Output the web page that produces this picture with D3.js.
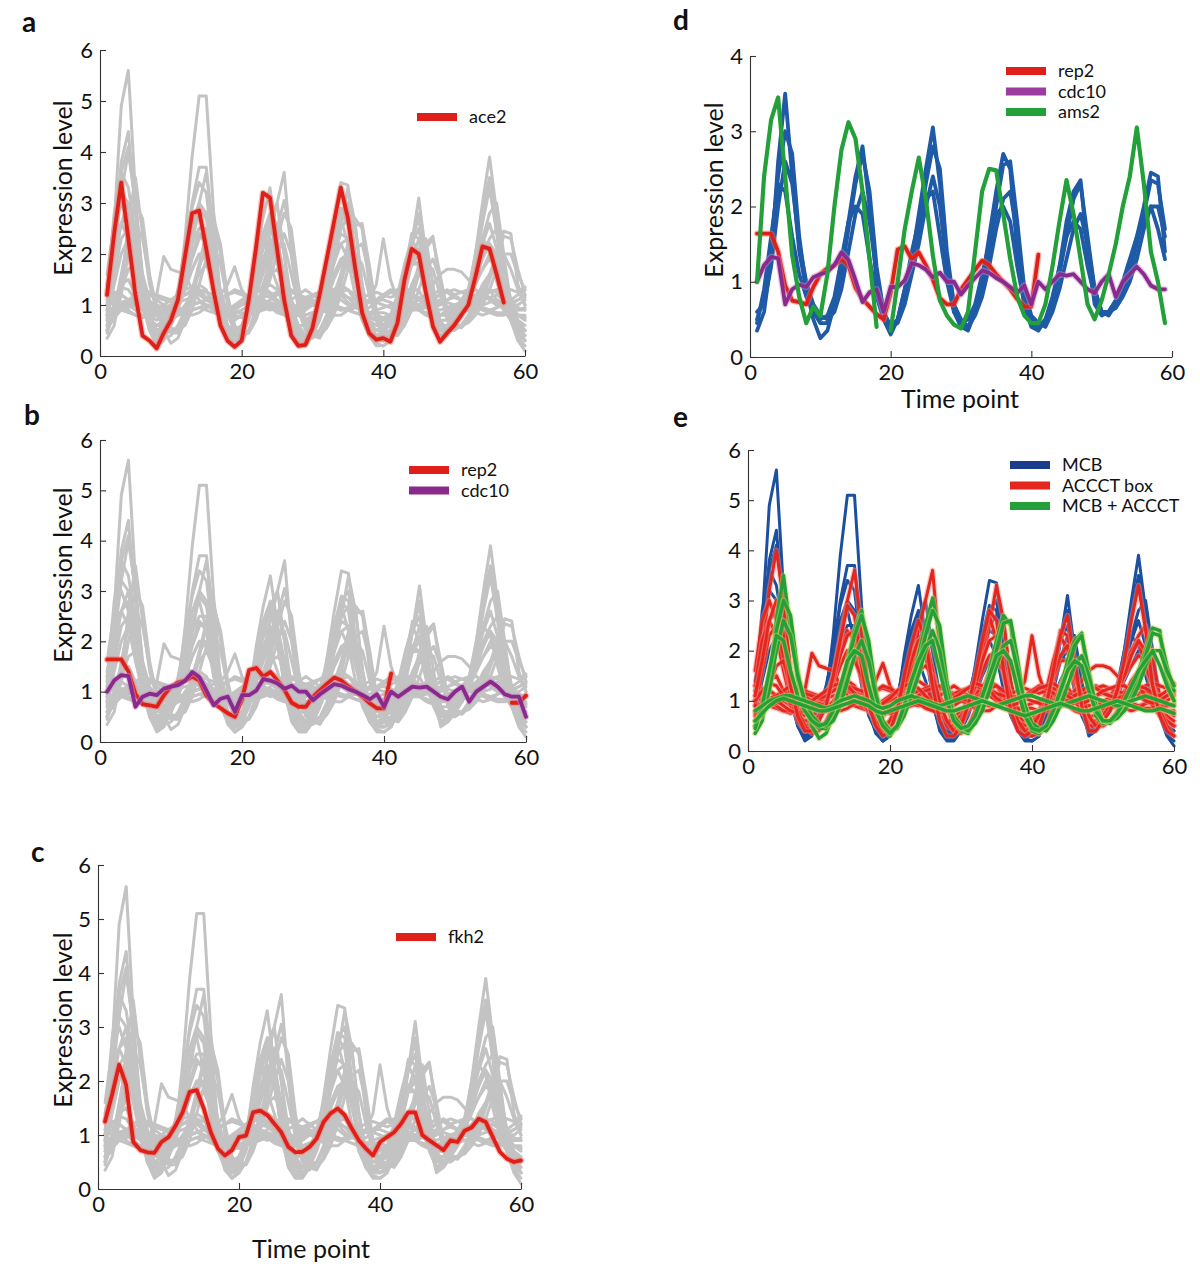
<!DOCTYPE html>
<html><head><meta charset="utf-8">
<script src="https://cdn.jsdelivr.net/npm/d3@7"></script>
<style>body{margin:0;background:#fff} svg{display:block} text{font-family:Lato,"Open Sans",sans-serif;}</style>
</head><body><svg id="chart" width="1200" height="1269"></svg>
<script>
// ---------- DATA ----------
const xTicks = [0, 20, 40, 60];
const yTicks6 = [0, 1, 2, 3, 4, 5, 6];
const yTicks4 = [0, 1, 2, 3, 4];

// MCB genes (blue in e)
const mcb1 = [0.8,2.6,4.9,5.6,3.2,1.3,0.5,0.2,0.3,0.6, 1.1,2.3,3.9,5.1,5.1,2.9,1.1,0.4,0.2,0.3, 0.9,1.9,2.7,3.3,2.3,1.0,0.4,0.2,0.2,0.4, 0.9,1.7,2.6,3.4,3.35,2.0,0.8,0.4,0.2,0.2, 0.3,0.6,1.3,2.2,3.1,2.0,0.9,0.3,0.4,0.6, 0.8,1.2,2.0,3.0,3.9,2.8,1.5,0.7,0.3,0.1];
const mcb2 = [1.2,2.8,3.6,4.1,3.0,1.5,0.7,0.4,0.5,0.8, 1.2,2.0,3.0,3.7,3.7,2.4,1.0,0.5,0.3,0.4, 1.0,1.8,2.4,2.6,2.0,1.1,0.6,0.3,0.3,0.5, 1.0,1.6,2.3,2.9,2.8,1.8,0.9,0.5,0.3,0.3, 0.4,0.8,1.5,2.2,2.5,1.7,0.8,0.4,0.5,0.7, 0.9,1.3,2.0,2.8,3.3,2.5,1.4,0.8,0.5,0.3];
const mcb3 = [0.5,2.0,3.6,3.3,2.4,1.2,0.6,0.3,0.4,0.7, 1.1,1.8,2.6,3.0,2.8,1.9,0.9,0.4,0.2,0.3, 0.8,1.5,2.2,2.7,3.0,2.0,0.9,0.4,0.3,0.5, 0.9,1.4,2.0,2.5,2.7,2.6,1.4,0.6,0.3,0.3, 0.4,0.7,1.2,1.8,2.3,2.3,1.4,0.6,0.5,0.6, 0.9,1.2,1.7,2.3,2.8,3.0,2.0,1.0,0.6,0.4];
const mcb4 = [1.4,2.2,2.6,2.8,2.2,1.3,0.8,0.5,0.6,0.9, 1.2,1.7,2.2,2.5,2.5,1.7,0.9,0.5,0.4,0.5, 1.0,1.6,2.1,2.3,1.9,1.2,0.7,0.4,0.4,0.6, 1.0,1.5,2.0,2.4,2.3,1.6,0.9,0.5,0.4,0.4, 0.5,0.8,1.3,1.8,2.0,1.5,0.9,0.5,0.6,0.7, 0.9,1.2,1.7,2.2,2.6,2.1,1.4,0.9,0.6,0.5];
const mcb5 = [0.9,2.4,3.2,3.0,2.0,1.0,0.5,0.3,0.5,0.8, 1.3,2.0,2.6,2.8,2.2,1.3,0.7,0.4,0.3,0.5, 1.1,1.6,1.9,1.8,1.4,0.9,0.5,0.3,0.4,0.7, 1.1,1.6,2.0,2.2,1.9,1.2,0.7,0.4,0.3,0.5, 0.7,1.1,1.5,1.9,1.8,1.2,0.7,0.4,0.5,0.7, 1.0,1.3,1.8,2.3,2.1,1.5,1.0,0.7,0.5,0.4];
const mcb6 = [0.7,1.4,2.0,2.3,2.2,1.5,0.8,0.4,0.4,0.6, 0.9,1.3,1.7,2.0,2.0,1.6,1.0,0.5,0.3,0.4, 0.7,1.2,1.7,2.1,2.6,2.0,1.1,0.5,0.3,0.4, 0.7,1.1,1.5,1.8,2.0,2.0,1.4,0.7,0.4,0.3, 0.4,0.6,1.0,1.4,1.7,1.7,1.2,0.7,0.5,0.6, 0.8,1.1,1.4,1.7,2.0,2.0,1.5,0.9,0.5,0.3];
const mcb7 = [1.0,2.4,3.8,4.4,2.8,1.2,0.5,0.25,0.35,0.7, 1.2,2.1,2.9,3.4,3.2,2.0,0.8,0.35,0.2,0.35, 0.9,1.7,2.4,2.8,2.2,1.0,0.45,0.25,0.25,0.45, 0.9,1.6,2.3,2.8,3.0,2.0,0.9,0.4,0.25,0.2, 0.3,0.7,1.4,2.2,2.8,1.9,0.8,0.35,0.45,0.65, 0.85,1.2,1.9,2.8,3.5,2.6,1.4,0.7,0.35,0.2];

// ACCCT box genes (red in e)
const acc1 = [1.0,2.0,3.2,4.0,3.0,1.6,0.8,0.5,0.5,0.7, 1.0,1.5,2.3,3.0,3.6,2.4,1.2,0.6,0.4,0.5, 0.8,1.2,1.8,2.4,3.0,3.6,2.0,0.9,0.5,0.5, 0.8,1.2,1.8,2.5,3.3,2.6,1.4,0.7,0.5,0.5, 0.6,0.9,1.6,2.4,2.3,1.5,0.9,0.6,0.6,0.8, 1.0,1.2,1.5,2.0,2.3,2.5,1.8,1.1,0.7,0.5];
const acc2 = [1.6,2.6,3.0,2.6,1.8,1.1,0.7,0.6,0.7,0.9, 1.1,1.5,2.0,2.4,2.2,1.5,0.9,0.6,0.5,0.6, 0.9,1.4,1.9,2.2,1.9,1.3,0.8,0.6,0.6,0.8, 1.0,1.4,2.0,2.7,2.2,1.5,1.0,0.7,0.6,0.6, 0.8,1.2,1.8,2.3,2.0,1.3,0.9,0.7,0.7,0.9, 1.1,1.3,1.7,2.0,2.2,1.7,1.2,0.9,0.7,0.6];
const acc3 = [1.3,2.2,2.6,2.3,1.6,1.0,0.8,0.7,0.8,0.9, 1.0,1.3,1.7,2.0,1.9,1.4,1.0,0.8,0.7,0.8, 0.9,1.2,1.6,2.0,2.1,1.6,1.1,0.8,0.7,0.8, 0.9,1.2,1.6,1.9,2.0,1.6,1.1,0.8,0.7,0.7, 0.8,1.0,1.4,1.8,1.8,1.4,1.0,0.8,0.8,0.9, 1.0,1.2,1.5,1.7,1.9,1.8,1.3,1.0,0.8,0.7];
const acc4 = [1.0,1.1,1.2,1.1,1.0,0.9,0.85,0.9,0.95,1.0, 1.05,1.1,1.15,1.2,1.1,1.0,0.9,0.85,0.9,1.0, 1.1,1.15,1.2,1.15,1.05,0.95,0.9,0.9,0.95,1.0, 1.05,1.1,1.2,1.25,1.15,1.0,0.9,0.85,0.9,0.95, 1.0,1.05,1.1,1.15,1.1,1.0,0.95,0.9,0.95,1.0, 1.05,1.1,1.15,1.2,1.15,1.05,1.0,0.95,0.9,0.9];
const acc5 = [0.8,0.85,0.9,0.85,0.8,0.75,0.8,0.85,0.85,0.8, 0.8,0.85,0.9,0.95,0.9,0.85,0.8,0.8,0.85,0.85, 0.8,0.85,0.9,0.95,0.9,0.85,0.8,0.8,0.8,0.85, 0.85,0.9,0.9,0.95,0.9,0.85,0.8,0.8,0.85,0.85, 0.8,0.8,0.85,0.9,0.9,0.85,0.8,0.8,0.85,0.85, 0.85,0.9,0.9,0.95,0.9,0.85,0.85,0.8,0.8,0.8];
const acc6 = [0.7,0.9,1.0,0.9,0.8,0.8,0.85,1.2,1.95,1.7, 1.65,1.6,1.3,1.1,1.0,0.9,0.85,0.9,1.0,1.1, 1.2,1.25,1.3,1.2,1.1,1.0,0.95,1.0,1.1,1.2, 1.25,1.3,1.2,1.1,1.0,0.95,1.0,1.05,1.1,1.2, 1.25,1.2,1.1,1.0,0.95,1.0,1.1,1.2,1.3,1.2, 1.1,1.0,1.05,1.1,1.15,1.2,1.1,1.0,1.0,1.1];
const acc7 = [1.1,1.0,0.9,0.95,1.0,1.1,1.2,1.1,1.0,0.95, 0.9,0.95,1.0,1.05,1.1,1.15,1.2,1.4,1.75,1.3, 1.1,1.0,0.95,0.9,0.95,1.0,1.1,1.2,1.3,1.2, 1.1,1.0,0.95,0.9,0.9,0.95,1.0,1.1,1.4,2.3, 1.5,1.1,1.0,0.95,0.9,0.95,1.0,1.05,1.1,1.15, 1.1,1.05,1.0,0.95,0.9,0.95,1.0,1.05,1.1,1.15];
const acc8 = [0.9,0.95,1.0,1.05,1.1,1.05,1.0,0.95,0.9,0.85, 0.9,0.95,1.0,1.05,1.0,0.95,0.9,0.9,0.95,1.0, 1.05,1.1,1.05,1.0,0.95,0.9,0.95,1.0,1.05,1.1, 1.05,1.0,0.95,0.9,0.95,1.0,1.05,1.1,1.05,1.0, 0.95,0.9,0.95,1.0,1.1,1.2,1.4,1.6,1.7,1.7, 1.65,1.5,1.3,1.2,1.1,1.0,0.95,0.9,0.9,0.95];
const acc9 = [0.6,1.0,1.4,1.5,1.2,0.9,0.7,0.6,0.6,0.7, 0.8,1.0,1.2,1.4,1.3,1.0,0.8,0.6,0.5,0.6, 0.8,1.0,1.3,1.4,1.3,1.0,0.7,0.6,0.6,0.7, 0.9,1.1,1.3,1.4,1.3,1.1,0.8,0.6,0.5,0.6, 0.7,0.9,1.2,1.3,1.3,1.0,0.8,0.6,0.6,0.7, 0.9,1.0,1.2,1.3,1.3,1.1,0.9,0.7,0.6,0.5];
const acc10 = [1.3,1.25,1.2,1.1,1.15,1.2,1.25,1.2,1.15,1.1, 1.15,1.2,1.25,1.3,1.25,1.2,1.15,1.2,1.25,1.2, 1.15,1.1,1.15,1.2,1.25,1.3,1.25,1.2,1.15,1.2, 1.25,1.3,1.25,1.2,1.15,1.1,1.15,1.2,1.25,1.2, 1.15,1.2,1.25,1.2,1.15,1.1,1.15,1.2,1.25,1.3, 1.25,1.2,1.15,1.2,1.25,1.3,1.35,1.3,1.25,1.35];
const acc11 = [0.9,1.6,2.3,2.5,1.9,1.1,0.6,0.4,0.5,0.7, 1.0,1.4,1.9,2.3,2.4,1.7,0.9,0.5,0.4,0.6, 0.9,1.3,1.8,2.2,2.3,1.6,0.9,0.5,0.4,0.6, 0.9,1.3,1.8,2.2,2.3,1.8,1.0,0.5,0.4,0.5, 0.7,1.0,1.5,1.9,2.1,1.6,0.9,0.5,0.5,0.7, 0.9,1.2,1.5,1.9,2.2,2.0,1.3,0.8,0.6,0.5];
const acc12 = [0.75,0.8,0.95,1.0,0.9,0.8,0.75,0.8,0.9,0.95, 0.9,0.85,0.8,0.85,0.95,1.0,0.95,0.85,0.8,0.75, 0.8,0.9,1.0,0.95,0.85,0.8,0.75,0.8,0.9,1.0, 0.95,0.85,0.8,0.8,0.9,1.0,0.95,0.85,0.8,0.75, 0.8,0.9,0.95,1.0,0.9,0.8,0.75,0.8,0.9,0.95, 1.0,0.9,0.85,0.8,0.85,0.95,1.0,0.9,0.8,0.75];
const acc13 = [1.2,1.15,1.05,1.1,1.2,1.3,1.25,1.15,1.1,1.05, 1.1,1.2,1.3,1.25,1.15,1.05,1.1,1.2,1.3,1.25, 1.15,1.05,1.0,1.1,1.2,1.25,1.3,1.2,1.1,1.05, 1.0,1.05,1.15,1.25,1.3,1.2,1.1,1.05,1.1,1.2, 1.3,1.25,1.15,1.05,1.0,1.1,1.2,1.3,1.25,1.15, 1.1,1.05,1.1,1.2,1.3,1.25,1.15,1.1,1.2,1.3];
const acc14 = [0.5,0.8,1.3,1.7,1.8,1.3,0.8,0.5,0.35,0.4, 0.6,0.9,1.3,1.6,1.8,1.5,1.0,0.6,0.4,0.35, 0.5,0.8,1.2,1.6,1.7,1.5,1.0,0.6,0.4,0.35, 0.5,0.8,1.2,1.6,1.8,1.6,1.1,0.6,0.4,0.3, 0.35,0.5,0.9,1.3,1.6,1.5,1.1,0.7,0.5,0.5, 0.6,0.8,1.1,1.4,1.6,1.7,1.3,0.8,0.5,0.3];
const acc15 = [1.0,1.2,1.35,1.3,1.1,0.95,0.9,0.95,1.0,1.1, 1.2,1.3,1.35,1.3,1.15,1.0,0.9,0.9,0.95,1.05, 1.2,1.3,1.35,1.25,1.1,0.95,0.9,0.95,1.05,1.15, 1.25,1.35,1.3,1.2,1.05,0.95,0.9,0.95,1.05,1.15, 1.25,1.3,1.35,1.25,1.1,1.0,0.95,1.0,1.1,1.2, 1.25,1.3,1.3,1.2,1.1,1.0,0.95,1.0,1.1,1.2];
const acc16 = [1.1,1.8,2.6,3.0,2.3,1.3,0.7,0.4,0.4,0.6, 0.9,1.5,2.2,2.9,2.7,1.7,0.9,0.5,0.3,0.4, 0.8,1.5,2.1,2.6,2.2,1.3,0.6,0.3,0.3,0.5, 0.9,1.5,2.2,2.8,2.6,1.6,0.8,0.4,0.3,0.4, 0.5,0.9,1.6,2.3,2.7,1.8,0.9,0.4,0.4,0.6, 0.8,1.2,1.8,2.6,3.3,2.4,1.3,0.7,0.4,0.3];

// MCB + ACCCT genes (green in e; blue in d)
const both1 = [0.35,0.6,1.3,2.6,3.5,2.4,1.4,0.9,0.5,0.25, 0.35,0.7,1.2,1.8,2.4,2.8,2.0,1.0,0.5,0.3, 0.5,0.9,1.3,1.9,2.5,3.05,2.3,1.2,0.6,0.4, 0.35,0.6,1.0,1.6,2.2,2.7,2.5,1.4,0.7,0.4, 0.35,0.5,0.7,1.2,1.8,2.2,2.35,1.4,0.7,0.55, 0.6,0.75,0.9,1.2,1.6,2.0,2.45,2.4,1.4,1.0];
const both2 = [0.5,0.8,1.5,2.4,3.0,2.7,1.6,0.9,0.6,0.45, 0.45,0.7,1.1,1.7,2.3,2.7,2.2,1.2,0.6,0.4, 0.5,0.8,1.2,1.7,2.3,2.8,2.5,1.4,0.7,0.45, 0.4,0.6,0.9,1.4,2.0,2.55,2.6,1.8,0.9,0.5, 0.4,0.45,0.7,1.1,1.6,2.1,2.3,1.6,0.9,0.6, 0.55,0.7,0.9,1.1,1.5,1.9,2.35,2.3,1.7,1.2];
const both3 = [0.6,0.7,1.2,2.0,2.6,2.3,1.5,1.0,0.7,0.55, 0.5,0.6,0.9,1.4,1.9,2.2,1.8,1.1,0.6,0.4, 0.45,0.7,1.1,1.5,2.0,2.4,2.0,1.2,0.7,0.5, 0.4,0.55,0.8,1.2,1.7,2.1,2.2,1.6,0.9,0.55, 0.45,0.4,0.6,0.9,1.3,1.7,1.9,1.5,0.9,0.6, 0.6,0.65,0.8,1.0,1.3,1.7,2.0,2.0,1.6,1.3];
const both4 = [0.45,0.9,1.6,2.3,2.2,1.6,1.1,0.8,0.6,0.5, 0.55,0.8,1.3,1.8,2.0,1.9,1.3,0.8,0.5,0.35, 0.5,0.9,1.4,1.8,2.1,2.2,1.6,1.0,0.6,0.45, 0.5,0.7,1.1,1.5,1.9,2.0,1.8,1.2,0.7,0.45, 0.4,0.5,0.8,1.2,1.6,1.8,1.7,1.2,0.8,0.6, 0.6,0.75,1.0,1.3,1.6,1.8,2.0,1.7,1.3,1.0];
const both5 = [0.8,0.9,1.0,1.05,1.1,1.1,1.05,1.0,0.95,0.9, 0.85,0.9,1.0,1.05,1.1,1.05,1.0,0.9,0.85,0.9, 1.0,1.05,1.1,1.05,1.0,0.95,0.9,0.95,1.0,1.05, 1.1,1.05,1.0,0.95,0.9,0.95,1.0,1.05,1.1,1.1, 1.05,1.0,0.95,0.9,0.95,1.0,1.05,1.1,1.05,1.0, 0.95,0.9,0.95,1.0,1.05,1.1,1.05,1.0,0.95,0.9];
const both6 = [0.6,0.75,0.9,1.0,1.05,1.0,0.95,0.9,0.85,0.8, 0.8,0.85,0.9,0.95,1.0,0.95,0.9,0.8,0.75,0.8, 0.85,0.9,0.95,1.0,0.95,0.9,0.85,0.8,0.8,0.85, 0.9,0.95,1.0,0.95,0.9,0.85,0.8,0.75,0.7,0.75, 0.8,0.85,0.9,0.95,0.9,0.85,0.8,0.8,0.85,0.9, 0.95,1.0,0.95,0.9,0.85,0.8,0.8,0.85,0.8,0.75];

// highlighted genes
const ace2 = [1.2,2.4,3.4,2.3,1.2,0.4,0.3,0.15,0.45,0.7, 1.1,1.95,2.8,2.85,2.1,1.3,0.6,0.3,0.18,0.3, 1.1,2.1,3.2,3.1,2.1,1.1,0.4,0.2,0.22,0.55, 1.2,1.9,2.6,3.3,2.7,1.75,0.85,0.45,0.32,0.35, 0.28,0.65,1.5,2.1,2.0,1.25,0.58,0.28,0.45,0.6, 0.8,1.0,1.55,2.15,2.1,1.6,1.05];
const rep2 = [1.64,1.64,1.64,1.4,0.95,0.75,0.73,0.7,0.93,1.1, 1.18,1.22,1.3,1.22,0.92,0.77,0.67,0.57,0.5,0.85, 1.43,1.47,1.3,1.39,1.22,1.03,0.78,0.7,0.7,0.9, 1.03,1.16,1.28,1.22,1.1,1.0,0.9,0.77,0.67,0.67, 1.36,null,null,null,null,null,null,null,null,null, null,null,null,null,null,null,null,0.78,0.78,0.92];
const cdc10 = [1.0,1.22,1.33,1.31,0.7,0.9,0.96,0.93,1.06,1.1, 1.13,1.22,1.39,1.29,1.02,0.73,0.86,0.9,0.6,0.93, 0.93,1.02,1.25,1.22,1.16,1.06,1.12,1.0,1.0,0.83, 0.95,1.05,1.15,1.12,1.05,1.0,0.93,0.85,0.95,0.7, 1.0,0.9,1.0,1.1,1.08,1.1,1.0,0.9,0.85,1.0, 1.1,0.8,1.0,1.1,1.2,1.1,0.95,0.9,0.9,0.5];
const fkh2 = [1.25,1.75,2.3,1.93,0.87,0.72,0.68,0.67,0.87,0.96, 1.17,1.42,1.8,1.83,1.49,1.05,0.75,0.62,0.72,0.96, 0.99,1.42,1.45,1.37,1.21,1.05,0.78,0.68,0.69,0.78, 0.93,1.24,1.4,1.49,1.37,1.12,0.9,0.75,0.62,0.87, 0.96,1.05,1.21,1.42,1.42,1.0,0.9,0.81,0.72,0.9, 0.87,1.08,1.14,1.3,1.24,0.96,0.69,0.56,0.5,0.53];
const ams2 = [1.0,2.4,3.15,3.45,2.4,1.35,0.8,0.45,0.67,0.54, 1.1,2.0,2.75,3.12,2.9,2.2,1.3,0.4,null,0.35, 1.0,1.7,2.2,2.65,2.1,1.35,0.75,0.55,0.43,0.38, 0.6,1.4,2.2,2.5,2.48,1.9,1.3,0.8,0.55,0.45, 0.45,0.7,1.2,1.8,2.35,1.9,1.3,0.7,0.5,0.75, 1.1,1.5,2.0,2.4,3.05,2.3,1.4,1.0,0.45];

const mcbGenes = [mcb1, mcb2, mcb3, mcb4, mcb5, mcb6, mcb7];
const accctGenes = [acc1, acc2, acc3, acc4, acc5, acc6, acc7, acc8, acc9, acc10, acc11, acc12, acc13, acc14, acc15, acc16];
const bothPeriodic = [both1, both2, both3, both4];
const bothGenes = [both1, both2, both3, both4, both5, both6];
const allGenes = [...accctGenes, ...mcbGenes, ...bothGenes];

// ---------- DRAWING ----------
const GRAY = "#c3c3c3", RED = "#de1f1a", PURPLE = "#8a2a8c", BLUE_D = "#1f5aa6",
      BLUE_E = "#1c4f9e", GREEN = "#23a03a";
const svg = d3.select("#chart");

function panel(cfg) {
  const x = d3.scaleLinear().domain([0, 60]).range([cfg.x0, cfg.x1]);
  const y = d3.scaleLinear().domain([0, cfg.ymax]).range([cfg.yb, cfg.yt]);
  const g = svg.append("g");
  const line = d3.line().defined(d => d.v != null).x(d => x(d.t)).y(d => y(d.v));
  cfg.series.forEach(s => {
    s.data.forEach(arr => {
      const pts = arr.map((v, i) => ({ t: i + 1, v }));
      if (s.halo) g.append("path").attr("d", line(pts)).attr("fill", "none")
        .attr("stroke", s.halo).attr("stroke-width", s.w + 2.5)
        .attr("stroke-linejoin", "round").attr("stroke-linecap", "round").attr("opacity", 0.5);
      g.append("path").attr("d", line(pts)).attr("fill", "none")
        .attr("stroke", s.color).attr("stroke-width", s.w)
        .attr("stroke-linejoin", "round").attr("stroke-linecap", "round");
    });
  });
  const ax = g.append("g").attr("transform", `translate(0,${cfg.yb})`)
    .call(d3.axisBottom(x).tickValues(xTicks).tickFormat(d3.format("d")).tickSizeInner(-6).tickSizeOuter(0).tickPadding(7));
  const ay = g.append("g").attr("transform", `translate(${cfg.x0},0)`)
    .call(d3.axisLeft(y).tickValues(cfg.yticks).tickFormat(d3.format("d")).tickSizeInner(-6).tickSizeOuter(0).tickPadding(7));
  [ax, ay].forEach(a => {
    a.selectAll("path,line").attr("stroke", "#333").attr("stroke-width", 1.1);
    a.selectAll("text").attr("font-size", 22).attr("fill", "#111").attr("font-family", "Lato, 'Open Sans', sans-serif");
  });
  if (cfg.ylab) g.append("text").attr("transform", `translate(${cfg.ylab[0]},${cfg.ylab[1]}) rotate(-90)`)
    .attr("text-anchor", "middle").attr("font-size", 25).attr("fill", "#111").text("Expression level");
  if (cfg.xlab) g.append("text").attr("x", cfg.xlab[0]).attr("y", cfg.xlab[1])
    .attr("text-anchor", "middle").attr("font-size", 25).attr("fill", "#111").text("Time point");
  g.append("text").attr("x", cfg.letter[1]).attr("y", cfg.letter[2]).attr("font-size", 28)
    .attr("font-weight", "bold").attr("font-family", "'Liberation Sans', Arial, sans-serif").attr("fill", "#111").text(cfg.letter[0]);
  cfg.legend.forEach((L, i) => {
    const ly = cfg.legPos[1] + i * cfg.legStep;
    g.append("line").attr("x1", cfg.legPos[0]).attr("x2", cfg.legPos[0] + 40)
      .attr("y1", ly).attr("y2", ly).attr("stroke", L.color).attr("stroke-width", 8);
    g.append("text").attr("x", cfg.legPos[0] + 52).attr("y", ly + 6).attr("font-size", 18)
      .attr("fill", "#111").text(L.name);
  });
}

panel({ x0: 100, x1: 525, yb: 356, yt: 50, ymax: 6, yticks: yTicks6, ylab: [72, 188],
  letter: ["a", 22, 32],
  series: [{ data: allGenes, color: GRAY, w: 3 }, { data: [ace2], color: RED, w: 3.8, halo: "#f07a6a" }],
  legPos: [417, 117], legStep: 20, legend: [{ name: "ace2", color: RED }] });

panel({ x0: 100, x1: 526, yb: 742, yt: 440, ymax: 6, yticks: yTicks6, ylab: [72, 575],
  letter: ["b", 24, 425],
  series: [{ data: allGenes, color: GRAY, w: 3 },
           { data: [rep2], color: RED, w: 3.8, halo: "#f07a6a" },
           { data: [cdc10], color: PURPLE, w: 3.8, halo: "#c890c8" }],
  legPos: [409, 470], legStep: 20.5, legend: [{ name: "rep2", color: RED }, { name: "cdc10", color: PURPLE }] });

panel({ x0: 98, x1: 521, yb: 1189, yt: 865, ymax: 6, yticks: yTicks6, ylab: [72, 1020],
  letter: ["c", 31, 862], xlab: [311, 1258],
  series: [{ data: allGenes, color: GRAY, w: 3 }, { data: [fkh2], color: RED, w: 3.8, halo: "#f07a6a" }],
  legPos: [396, 937], legStep: 20, legend: [{ name: "fkh2", color: RED }] });

panel({ x0: 750, x1: 1172, yb: 357, yt: 56, ymax: 4, yticks: yTicks4, ylab: [723, 190],
  letter: ["d", 673, 30], xlab: [960, 408],
  series: [{ data: bothPeriodic.map(a => a.slice(0, 59)), color: BLUE_D, w: 3.8 },
           { data: [rep2.slice(0, 41)], color: RED, w: 3.8, halo: "#f07a6a" },
           { data: [cdc10.slice(0, 59)], color: PURPLE, w: 3.8, halo: "#c890c8" },
           { data: [ams2], color: GREEN, w: 4.2 }],
  legPos: [1006, 71], legStep: 20.5,
  legend: [{ name: "rep2", color: RED }, { name: "cdc10", color: "#9b3c9e" }, { name: "ams2", color: GREEN }] });

panel({ x0: 748, x1: 1174, yb: 751, yt: 450, ymax: 6, yticks: yTicks6, ylab: null,
  letter: ["e", 673, 427],
  series: [{ data: mcbGenes, color: BLUE_E, w: 3 },
           { data: accctGenes, color: "#e5261f", w: 3, halo: "#f28a80" },
           { data: bothGenes, color: GREEN, w: 3.4, halo: "#c8d860" }],
  legPos: [1010, 465], legStep: 20.5,
  legend: [{ name: "MCB", color: "#1a3c8c" }, { name: "ACCCT box", color: "#e5261f" }, { name: "MCB + ACCCT", color: GREEN }] });
</script></body></html>
